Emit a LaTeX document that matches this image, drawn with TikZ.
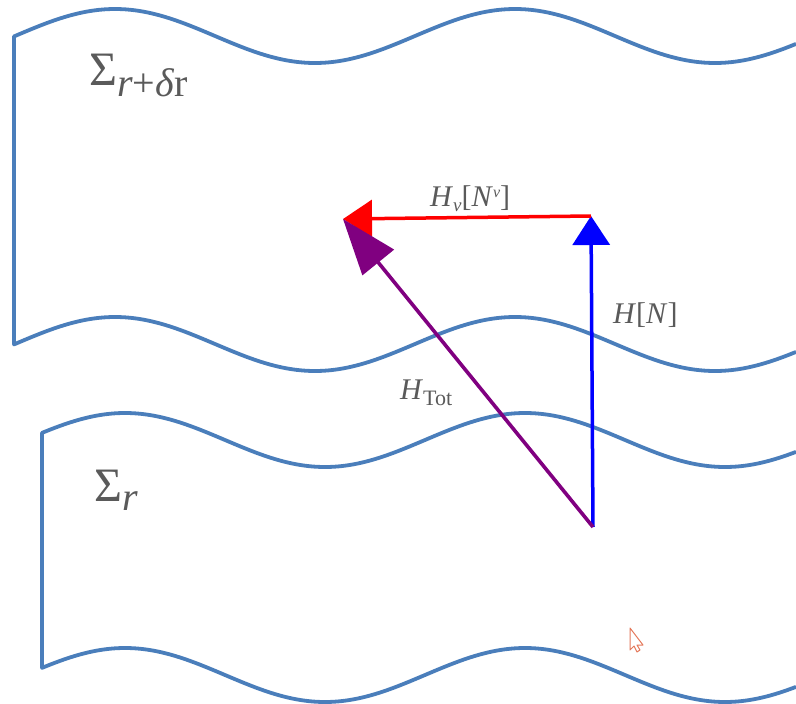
\documentclass[tikz,border=0pt]{standalone}
\usepackage{fontspec}
\setmainfont{Liberation Serif}
\usetikzlibrary{arrows.meta}
\definecolor{wavecol}{RGB}{74,126,187}
\definecolor{labcol}{RGB}{90,90,90}
\definecolor{purp}{RGB}{128,0,128}
\definecolor{cursorcol}{RGB}{228,120,90}
\tikzset{
  wave/.style={draw=wavecol, line width=3.8pt, line join=round},
  vec/.style={line width=3.5pt, -{Triangle[length=29pt,width=37pt]}},
  lab/.style={text=labcol, inner sep=0pt, anchor=base west, font=\fontsize{30}{32}\selectfont},
  siglab/.style={text=labcol, inner sep=0pt, anchor=base west, font=\fontsize{48}{52}\selectfont}
}
\begin{document}
\begin{tikzpicture}[x=1pt,y=-1pt]
\useasboundingbox (0,0) rectangle (796,704);
% upper sheet
\draw[wave] plot[domain=796:14,samples=120,smooth] (\x,{36-27*cos(0.9*(\x-115))})
  -- plot[domain=14:796,samples=120,smooth] (\x,{344-27*cos(0.9*(\x-115))});
% lower sheet
\draw[wave] plot[domain=796:42,samples=120,smooth] (\x,{440-27*cos(0.9*(\x-125))})
  -- plot[domain=42:796,samples=120,smooth] (\x,{675-27*cos(0.9*(\x-125))});
% vectors
\coordinate (O) at (593,527);
\coordinate (A) at (591,216);
\coordinate (B) at (343,219);
\draw[vec, blue] (O) -- (A);
\draw[vec, red] (A) -- (B);
\draw[line width=3.6pt, purp, -{Triangle[length=56pt,width=40pt]}] (O) -- (B);
% labels
\node[lab] (hv) at (430,206) {\textit{H}\raisebox{-5pt}{\fontsize{19}{21}\selectfont\textit{ν}}[\textit{N}\raisebox{9pt}{\fontsize{16}{17}\selectfont\textit{ν}}]};
\node[lab] (hn) at (613,323) {\textit{H}[\textit{N}]};
\node[lab] (ht) at (400,399) {\textit{H}\raisebox{-6pt}{\fontsize{22}{24}\selectfont Tot}};
\node[siglab] (s1) at (89,85) {Σ\raisebox{-11pt}{\fontsize{40}{42}\selectfont\textit{r}+\textit{δ}r}};
\node[siglab] (s2) at (94,501) {Σ\raisebox{-9pt}{\fontsize{40}{42}\selectfont\textit{r}}};
% cursor
\draw[cursorcol, line width=1pt, line join=round] (630,628) -- (630,650) -- (634,646) -- (637,652) -- (640,650) -- (637,645) -- (643,645) -- cycle;
\end{tikzpicture}
\end{document}
